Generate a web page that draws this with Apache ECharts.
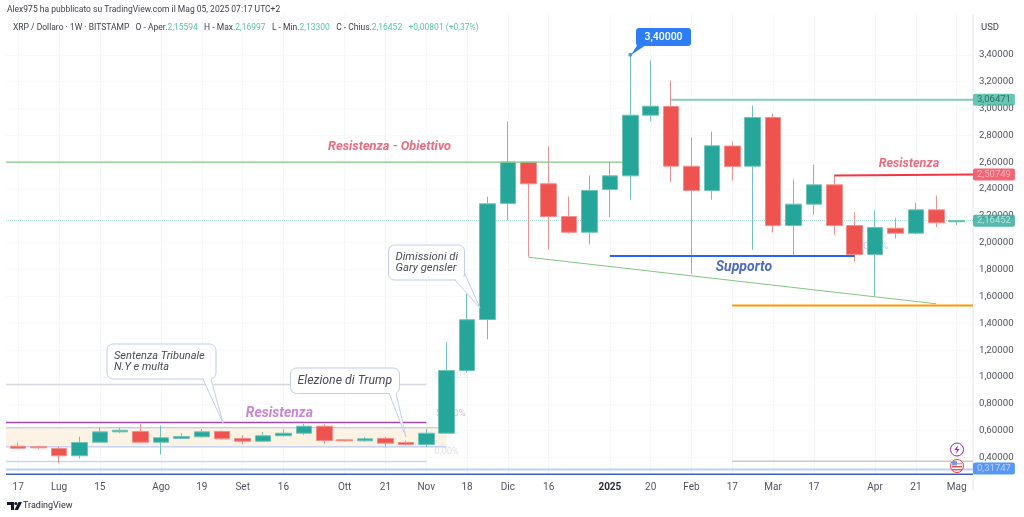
<!DOCTYPE html>
<html>
<head>
<meta charset="utf-8">
<title>XRP / Dollaro</title>
<script src="https://cdn.jsdelivr.net/npm/echarts@6/dist/echarts.min.js"></script>
<style>
  html, body { margin: 0; padding: 0; background: #fff; }
  #chart { width: 1024px; height: 517px; }
</style>
</head>
<body>
<div id="chart"></div>
<script>
// candele settimanali: apertura, chiusura, minimo, massimo
var opens  = [0.484,0.480,0.467,0.413,0.514,0.591,0.594,0.514,0.542,0.554,0.594,0.542,0.521,0.562,0.581,0.633,0.532,0.524,0.542,0.512,0.497,0.581,1.048,1.428,2.292,2.600,2.439,2.195,2.078,2.396,2.498,2.950,3.015,2.570,2.389,2.720,2.570,2.933,2.128,2.287,2.431,2.128,1.912,2.108,2.071,2.245,2.156];
var closes = [0.469,0.472,0.413,0.512,0.591,0.603,0.514,0.547,0.556,0.591,0.539,0.521,0.562,0.581,0.633,0.527,0.524,0.539,0.507,0.497,0.581,1.048,1.426,2.290,2.600,2.439,2.195,2.078,2.389,2.498,2.950,3.017,2.570,2.389,2.722,2.568,2.933,2.128,2.287,2.431,2.128,1.912,2.113,2.071,2.245,2.148,2.165];
var lows   = [0.467,0.460,0.358,0.393,0.512,0.581,0.512,0.422,0.539,0.547,0.534,0.497,0.517,0.556,0.566,0.502,0.519,0.517,0.477,0.489,0.477,0.577,1.033,1.279,2.165,1.897,1.949,2.066,1.987,2.190,2.320,2.905,2.451,1.768,2.320,2.463,1.947,2.076,1.905,2.210,2.059,1.855,1.607,2.031,2.061,2.116,2.133];
var highs  = [0.514,0.489,0.482,0.556,0.626,0.621,0.651,0.638,0.581,0.614,0.601,0.566,0.591,0.611,0.651,0.646,0.536,0.554,0.554,0.527,0.614,1.259,1.622,2.344,2.903,2.600,2.717,2.344,2.501,2.600,3.400,3.357,3.208,2.786,2.828,2.756,3.022,2.960,2.471,2.583,2.501,2.227,2.240,2.186,2.297,2.352,2.170];

// asse tempo: indice della settimana e etichetta
var tickWeeks  = [0,2,4,7,9,11,13,16,18,20,22,24,26,29,31,33,35,37,39,42,44,46];
var tickLabels = ['17','Lug','15','Ago','19','Set','16','Ott','21','Nov','18','Dic','16','2025','20','Feb','17','Mar','17','Apr','21','Mag'];
var priceTicks = [0.4,0.6,0.8,1.0,1.2,1.4,1.6,1.8,2.0,2.2,2.4,2.6,2.8,3.0,3.2,3.4];

// livelli disegnati sul grafico: [settimana, prezzo]
var weekMin = -0.6, weekMax = 46.8, priceMin = 0.266, priceMax = 3.7;
var resistenzaObiettivo = [[weekMin,2.6],[29.6,2.6]];
var livelloVerde = [[32,3.06471],[weekMax,3.06471]];
var resistenzaRossa = [[40,2.501],[40,2.50749],[weekMax,2.50749]];
var supporto = [[29,1.901],[41,1.901]];
var trendVerde = [[25,1.892],[45,1.545]];
var livelloArancio = [[35,1.532],[weekMax,1.532]];
var livelloGrigio = [[35,0.373],[weekMax,0.373]];
var fibAlto = [[weekMin,0.944],[20,0.944]];
var resistenzaViola = [[weekMin,0.661],[20,0.661]];
var fibBasso = [[weekMin,0.371],[20,0.371]];
var bandaAlta = [[weekMin,0.622],[21,0.622]];
var bandaBassa = [[weekMin,0.479],[21,0.479]];
var lineaAzzurra = [[weekMin,0.31],[weekMax,0.31]];
var lineaBlu = [[weekMin,0.275],[weekMax,0.275]];
var ultimoPrezzo = [[weekMin,2.16452],[weekMax,2.16452]];

var up = '#26a69a', down = '#ef5350';
var font = 'Roboto, "Noto Sans", sans-serif';

var candles = opens.map(function (o, i) {
    return [i, o, closes[i], lows[i], highs[i]];
});

function levelLine(data, color, width, z, type) {
    return {
        type: 'line', data: data, symbol: 'none', silent: true, z: z || 1,
        lineStyle: { color: color, width: width, type: type || 'solid' }
    };
}

// etichetta colorata sulla scala dei prezzi
function priceTag(price, bg, color) {
    return {
        type: 'scatter', symbolSize: 0, silent: true, z: 20, data: [[weekMax, price]],
        label: {
            show: true, position: 'right', distance: 0,
            formatter: price.toFixed(5).replace('.', ','),
            backgroundColor: bg, color: color, fontFamily: font, fontSize: 9.5,
            padding: [1, 4, 1, 4], borderRadius: 2
        }
    };
}

function note(x, y, text, color, size, italic, weight) {
    return {
        type: 'scatter', symbolSize: 0, silent: true, z: italic ? 8 : 1, data: [[x, y]],
        label: {
            show: true, position: 'inside', formatter: text, color: color, fontFamily: font,
            fontSize: size, fontStyle: italic ? 'italic' : 'normal', fontWeight: weight || 'normal'
        }
    };
}

// fumetto con la punta
function callout(x, y, w, h, tail, lines, size) {
    var box = '#c3cdee';
    return [
        { type: 'polygon', z: 30, shape: { points: tail }, style: { fill: '#fff', stroke: box, lineWidth: 1 } },
        { type: 'rect', z: 31, shape: { x: x, y: y, width: w, height: h, r: 6 }, style: { fill: '#fff', stroke: box, lineWidth: 1 } },
        { type: 'rect', z: 32, shape: { x: tail[0][0] + 1, y: tail[0][1] - 3, width: tail[2][0] - tail[0][0] - 1, height: 4 }, style: { fill: '#fff' } },
        { type: 'text', z: 33, x: x + 7, y: y + h / 2, style: { text: lines, fill: '#4a4d57', font: 'italic ' + size + 'px ' + font, verticalAlign: 'middle', lineHeight: 11 } }
    ];
}

var graphics = [
    { type: 'text', z: 50, x: 7, y: 10, style: { text: 'Alex975 ha pubblicato su TradingView.com il Mag 05, 2025 07:17 UTC+2', fill: '#3f424b', font: '8.5px ' + font, verticalAlign: 'middle' } },
    {
        type: 'text', z: 50, x: 13, y: 28, style: {
            text: '{k|XRP / Dollaro · 1W · BITSTAMP   O - Aper.}{v|2,15594}{k|   H - Max.}{v|2,16997}{k|   L - Min.}{v|2,13300}{k|   C - Chius.}{v|2,16452}{v|   +0,00801 (+0,37%)}',
            verticalAlign: 'middle',
            rich: {
                k: { fill: '#3f424b', font: '8.5px ' + font },
                v: { fill: '#5cc2b0', font: '8.5px ' + font }
            }
        }
    },
    { type: 'text', z: 50, x: 981, y: 28, style: { text: 'USD', fill: '#434651', font: '9.5px ' + font, verticalAlign: 'middle' } },
    { type: 'line', z: 0, shape: { x1: 973, y1: 14, x2: 973, y2: 491 }, style: { stroke: '#e4e6ec', lineWidth: 1 } },
    // punta del 3,40000
    { type: 'polygon', z: 30, shape: { points: [[638, 44], [646, 45], [631, 55]] }, style: { fill: '#2e7df6' } },
    { type: 'rect', z: 31, shape: { x: 636, y: 28, width: 55, height: 18, r: 3 }, style: { fill: '#2e7df6' } },
    { type: 'text', z: 32, x: 663.5, y: 37, style: { text: '3,40000', fill: '#fff', font: '500 10.5px ' + font, align: 'center', verticalAlign: 'middle' } },
    // icone in basso a destra
    { type: 'circle', z: 30, shape: { cx: 957, cy: 449.5, r: 6.5 }, style: { fill: '#fff', stroke: '#9c27b0', lineWidth: 1 } },
    { type: 'polygon', z: 31, shape: { points: [[958, 445], [954.5, 450], [957, 450], [956, 454], [959.5, 449], [957, 449]] }, style: { fill: '#9c27b0' } },
    { type: 'circle', z: 30, shape: { cx: 957, cy: 466, r: 6.5 }, style: { fill: '#fff', stroke: '#f23645', lineWidth: 1 } },
    { type: 'rect', z: 31, shape: { x: 952, y: 463, width: 10, height: 1.4 }, style: { fill: '#ef9a9a' } },
    { type: 'rect', z: 31, shape: { x: 952, y: 466, width: 10, height: 1.4 }, style: { fill: '#ef5350' } },
    { type: 'rect', z: 31, shape: { x: 952, y: 469, width: 10, height: 1.4 }, style: { fill: '#ef5350' } },
    { type: 'rect', z: 32, shape: { x: 952, y: 461, width: 5, height: 4.5 }, style: { fill: '#6f9fe8' } },
    // logo TradingView
    { type: 'polygon', shape: { points: [[7, 502], [14, 502], [14, 510], [11, 510], [11, 505], [7, 505]] }, style: { fill: '#131722' } },
    { type: 'circle', shape: { cx: 15.8, cy: 503.5, r: 1.5 }, style: { fill: '#131722' } },
    { type: 'polygon', shape: { points: [[18.5, 502], [22, 502], [18, 510], [14.5, 510]] }, style: { fill: '#131722' } },
    { type: 'text', x: 23, y: 506, style: { text: 'TradingView', fill: '#2a2e39', font: '9px ' + font, verticalAlign: 'middle' } }
]
    .concat(callout(107, 344, 109, 35, [[203, 379], [223, 423], [211, 379]], 'Sentenza Tribunale\nN.Y e multa', 11))
    .concat(callout(290.5, 368, 109, 25.5, [[389, 393], [406, 437], [396, 393]], 'Elezione di Trump', 12.3))
    .concat(callout(388.5, 245, 76, 35, [[455, 280], [480, 308], [464, 272]], 'Dimissioni di\nGary gensler', 11.3));

var series = [
    {
        type: 'candlestick', data: candles, encode: { x: 0, y: [1, 2, 3, 4] }, barWidth: 16, z: 5, silent: true,
        itemStyle: { color: up, color0: down, borderColor: '#6fc4b9', borderColor0: '#f48e8c', borderWidth: 1 }
    },
    // banda crema tra i due livelli
    {
        type: 'line', data: bandaAlta, symbol: 'none', z: 1, silent: true,
        lineStyle: { color: '#a9c2f6', width: 1 },
        markArea: {
            silent: true, itemStyle: { color: '#fdf3e4' },
            data: [[{ coord: [bandaBassa[0][0], bandaAlta[0][1]] }, { coord: [bandaBassa[1][0], bandaBassa[1][1]] }]]
        }
    },
    levelLine(bandaBassa, '#a9c2f6', 1),
    levelLine(fibAlto, '#d6d8e0', 1.5),
    levelLine(fibBasso, '#ccd5ef', 1.5),
    levelLine(resistenzaViola, '#a04bb8', 1.5),
    levelLine(ultimoPrezzo, '#9fd9cf', 1, 1, 'dotted'),
    levelLine(resistenzaObiettivo, '#81c784', 1.2, 6),
    levelLine(livelloVerde, '#7fcdc0', 2, 6),
    levelLine(resistenzaRossa, '#f23645', 2, 6),
    levelLine(supporto, '#2962ff', 2, 6),
    levelLine(trendVerde, '#81c784', 1, 6),
    levelLine(livelloArancio, '#ff9800', 2, 6),
    levelLine(livelloGrigio, '#c9cbd2', 1.5, 6),
    levelLine(lineaAzzurra, '#bcd0f8', 2, 6),
    levelLine(lineaBlu, '#3f5cc6', 1.5, 6),
    { type: 'scatter', data: [[30, 3.4]], symbolSize: 4, itemStyle: { color: '#2e7df6' }, z: 7, silent: true },
    note(18.2, 2.713, 'Resistenza - Obiettivo', '#e8455f', 12.8, true, 'bold'),
    note(43.66, 2.59, 'Resistenza', '#e8455f', 12.6, true, 'bold'),
    note(12.8, 0.73, 'Resistenza', '#ba68c8', 14, true, 'bold'),
    note(35.57, 1.815, 'Supporto', '#1f43bb', 14, true, 'bold'),
    note(21.2, 1.01, '100,00%', '#e5e1ec', 9.5),
    note(21.2, 0.73, '50,00%', '#d5a8e0', 9.5),
    note(21, 0.446, '0,00%', '#d6d8e0', 9.5),
    note(41.9, 1.97, '50,00%', '#a9c2f6', 9.5),
    priceTag(3.06471, '#3eb8a1', '#28564f'),
    priceTag(2.50749, '#f23d50', '#f7c9cd'),
    priceTag(2.16452, '#2ba898', '#c9ece6'),
    priceTag(0.31747, '#2e7df6', '#cfe1fd')
];

var chart = echarts.init(document.getElementById('chart'));
chart.setOption({
    animation: false,
    backgroundColor: '#fff',
    grid: { left: 6, right: 51, top: 14.5, bottom: 41.5 },
    xAxis: {
        type: 'value', min: weekMin, max: weekMax,
        axisLine: { show: false },
        axisTick: { show: false, customValues: tickWeeks },
        splitLine: { show: true, lineStyle: { color: '#f6f7f9', width: 1 } },
        axisLabel: {
            customValues: tickWeeks, margin: 6.5, hideOverlap: false,
            fontFamily: font, fontSize: 10, color: '#50535e',
            formatter: function (v) {
                var t = tickLabels[tickWeeks.indexOf(v)];
                return t === '2025' ? '{b|2025}' : t;
            },
            rich: { b: { fontFamily: font, fontSize: 10, fontWeight: 'bold', color: '#2a2e39' } }
        }
    },
    yAxis: {
        type: 'value', position: 'right', min: priceMin, max: priceMax, scale: true,
        axisLine: { show: false },
        axisTick: { show: false, customValues: priceTicks },
        splitLine: { show: true, lineStyle: { color: '#f8f9fa', width: 1 } },
        axisLabel: {
            customValues: priceTicks, margin: 6, fontFamily: font, fontSize: 9.7, color: '#50535e',
            formatter: function (v) { return v.toFixed(5).replace('.', ','); }
        }
    },
    series: series,
    graphic: graphics
});
</script>
</body>
</html>
